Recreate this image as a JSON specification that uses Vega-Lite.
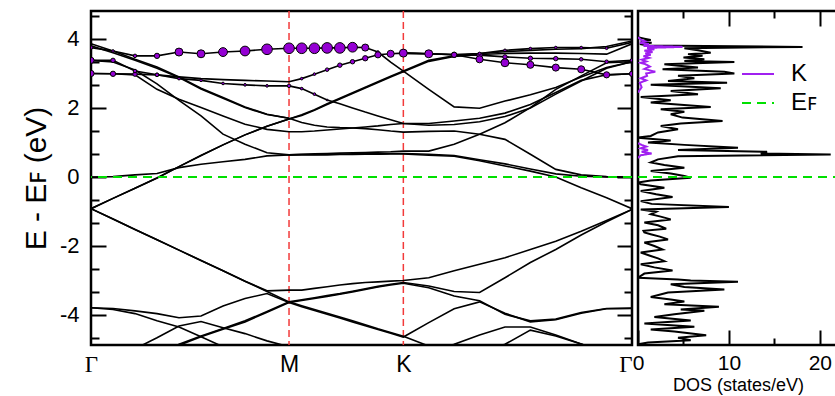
{
"$schema": "https://vega.github.io/schema/vega-lite/v6.json",
"background": "white",
"padding": {"left": 20, "top": 8, "right": 0, "bottom": 0},
"bounds": "flush",
"spacing": 6,
"config": {
 "view": {"stroke": "black", "strokeWidth": 2.5},
 "font": "Liberation Sans",
 "axis": {"domain": false, "grid": false, "tickColor": "black", "tickWidth": 2, "labelColor": "black", "titleColor": "black", "labelFont": "Liberation Sans", "titleFont": "Liberation Sans", "titleFontWeight": "normal"}
},
"datasets": {
 "kp": [{"i":0,"k":0},{"i":1,"k":0.1111},{"i":2,"k":0.2222},{"i":3,"k":0.3333},{"i":4,"k":0.4444},{"i":5,"k":0.5556},{"i":6,"k":0.6667},{"i":7,"k":0.7778},{"i":8,"k":0.8889},{"i":9,"k":1.0},{"i":10,"k":1.0641},{"i":11,"k":1.1283},{"i":12,"k":1.1924},{"i":13,"k":1.2566},{"i":14,"k":1.3207},{"i":15,"k":1.3849},{"i":16,"k":1.449},{"i":17,"k":1.5132},{"i":18,"k":1.5773},{"i":19,"k":1.7056},{"i":20,"k":1.8339},{"i":21,"k":1.9622},{"i":22,"k":2.0905},{"i":23,"k":2.2188},{"i":24,"k":2.3471},{"i":25,"k":2.4754},{"i":26,"k":2.6037},{"i":27,"k":2.732}],
 "bands": [
{"b":"A","i":0,"e":-0.92},{"b":"A","i":1,"e":-1.22},{"b":"A","i":2,"e":-1.52},{"b":"A","i":3,"e":-1.82},{"b":"A","i":4,"e":-2.12},{"b":"A","i":5,"e":-2.42},{"b":"A","i":6,"e":-2.72},{"b":"A","i":7,"e":-3.02},{"b":"A","i":8,"e":-3.30},{"b":"A","i":9,"e":-3.28},{"b":"A","i":10,"e":-3.28},{"b":"A","i":11,"e":-3.23},{"b":"A","i":12,"e":-3.18},{"b":"A","i":13,"e":-3.13},{"b":"A","i":14,"e":-3.09},{"b":"A","i":15,"e":-3.06},{"b":"A","i":16,"e":-3.04},{"b":"A","i":17,"e":-3.02},{"b":"A","i":18,"e":-3.00},{"b":"A","i":19,"e":-2.92},{"b":"A","i":20,"e":-2.72},{"b":"A","i":21,"e":-2.53},{"b":"A","i":22,"e":-2.34},{"b":"A","i":23,"e":-2.10},{"b":"A","i":24,"e":-1.86},{"b":"A","i":25,"e":-1.57},{"b":"A","i":26,"e":-1.26},{"b":"A","i":27,"e":-0.94},
{"b":"D","i":0,"e":-0.92},{"b":"D","i":1,"e":-1.22},{"b":"D","i":2,"e":-1.52},{"b":"D","i":3,"e":-1.82},{"b":"D","i":4,"e":-2.12},{"b":"D","i":5,"e":-2.42},{"b":"D","i":6,"e":-2.72},{"b":"D","i":7,"e":-3.02},{"b":"D","i":8,"e":-3.32},{"b":"D","i":9,"e":-3.62},{"b":"D","i":10,"e":-3.73},{"b":"D","i":11,"e":-3.84},{"b":"D","i":12,"e":-3.95},{"b":"D","i":13,"e":-4.06},{"b":"D","i":14,"e":-4.17},{"b":"D","i":15,"e":-4.28},{"b":"D","i":16,"e":-4.40},{"b":"D","i":17,"e":-4.51},{"b":"D","i":18,"e":-4.62},{"b":"D","i":19,"e":-4.90},{"b":"D","i":20,"e":-5.20},
{"b":"B","i":3,"e":-5.20},{"b":"B","i":4,"e":-4.85},{"b":"B","i":5,"e":-4.61},{"b":"B","i":6,"e":-4.39},{"b":"B","i":7,"e":-4.17},{"b":"B","i":8,"e":-3.90},{"b":"B","i":9,"e":-3.62},{"b":"B","i":10,"e":-3.56},{"b":"B","i":11,"e":-3.50},{"b":"B","i":12,"e":-3.44},{"b":"B","i":13,"e":-3.38},{"b":"B","i":14,"e":-3.31},{"b":"B","i":15,"e":-3.24},{"b":"B","i":16,"e":-3.17},{"b":"B","i":17,"e":-3.11},{"b":"B","i":18,"e":-3.06},{"b":"B","i":19,"e":-3.16},{"b":"B","i":20,"e":-3.32},{"b":"B","i":21,"e":-3.35},{"b":"B","i":22,"e":-2.92},{"b":"B","i":23,"e":-2.48},{"b":"B","i":24,"e":-2.10},{"b":"B","i":25,"e":-1.68},{"b":"B","i":26,"e":-1.30},{"b":"B","i":27,"e":-0.94},
{"b":"C","i":3,"e":-5.25},{"b":"C","i":4,"e":-4.88},{"b":"C","i":5,"e":-4.63},{"b":"C","i":6,"e":-4.41},{"b":"C","i":7,"e":-4.20},{"b":"C","i":8,"e":-3.92},{"b":"C","i":9,"e":-3.64},{"b":"C","i":10,"e":-3.58},{"b":"C","i":11,"e":-3.52},{"b":"C","i":12,"e":-3.46},{"b":"C","i":13,"e":-3.40},{"b":"C","i":14,"e":-3.33},{"b":"C","i":15,"e":-3.26},{"b":"C","i":16,"e":-3.19},{"b":"C","i":17,"e":-3.13},{"b":"C","i":18,"e":-3.08},{"b":"C","i":19,"e":-3.21},{"b":"C","i":20,"e":-3.45},{"b":"C","i":21,"e":-3.59},{"b":"C","i":22,"e":-3.98},{"b":"C","i":23,"e":-4.17},{"b":"C","i":24,"e":-4.12},{"b":"C","i":25,"e":-3.93},{"b":"C","i":26,"e":-3.81},{"b":"C","i":27,"e":-3.80},
{"b":"P","i":0,"e":-3.79},{"b":"P","i":1,"e":-3.81},{"b":"P","i":2,"e":-3.88},{"b":"P","i":3,"e":-3.96},{"b":"P","i":4,"e":-4.08},{"b":"P","i":5,"e":-4.03},{"b":"P","i":6,"e":-3.74},{"b":"P","i":7,"e":-3.52},{"b":"P","i":8,"e":-3.38},{"b":"P","i":9,"e":-3.64},{"b":"P","i":10,"e":-3.76},{"b":"P","i":11,"e":-3.87},{"b":"P","i":12,"e":-3.98},{"b":"P","i":13,"e":-4.09},{"b":"P","i":14,"e":-4.20},{"b":"P","i":15,"e":-4.31},{"b":"P","i":16,"e":-4.42},{"b":"P","i":17,"e":-4.53},{"b":"P","i":18,"e":-4.64},{"b":"P","i":19,"e":-4.22},{"b":"P","i":20,"e":-3.82},{"b":"P","i":21,"e":-3.62},{"b":"P","i":22,"e":-3.95},{"b":"P","i":23,"e":-4.20},{"b":"P","i":24,"e":-4.14},{"b":"P","i":25,"e":-3.95},{"b":"P","i":26,"e":-3.82},{"b":"P","i":27,"e":-3.81},
{"b":"Q","i":0,"e":-3.79},{"b":"Q","i":1,"e":-3.84},{"b":"Q","i":2,"e":-3.96},{"b":"Q","i":3,"e":-4.17},{"b":"Q","i":4,"e":-4.35},{"b":"Q","i":5,"e":-4.63},{"b":"Q","i":6,"e":-4.92},{"b":"Q","i":7,"e":-5.20},
{"b":"R","i":1,"e":-5.25},{"b":"R","i":2,"e":-4.98},{"b":"R","i":3,"e":-4.66},{"b":"R","i":4,"e":-4.32},{"b":"R","i":5,"e":-4.19},{"b":"R","i":6,"e":-4.37},{"b":"R","i":7,"e":-4.54},{"b":"R","i":8,"e":-4.75},{"b":"R","i":9,"e":-4.92},{"b":"R","i":10,"e":-5.10},
{"b":"T1","i":18,"e":-5.40},{"b":"T1","i":19,"e":-5.10},{"b":"T1","i":20,"e":-4.85},{"b":"T1","i":21,"e":-4.58},{"b":"T1","i":22,"e":-4.35},{"b":"T1","i":23,"e":-4.35},{"b":"T1","i":24,"e":-4.58},{"b":"T1","i":25,"e":-4.84},{"b":"T1","i":26,"e":-5.10},
{"b":"T2","i":20,"e":-5.40},{"b":"T2","i":21,"e":-5.10},{"b":"T2","i":22,"e":-4.85},{"b":"T2","i":23,"e":-4.44},{"b":"T2","i":24,"e":-4.61},{"b":"T2","i":25,"e":-4.84},{"b":"T2","i":26,"e":-5.10},
{"b":"U1","i":0,"e":-0.92},{"b":"U1","i":1,"e":-0.62},{"b":"U1","i":2,"e":-0.33},{"b":"U1","i":3,"e":-0.03},{"b":"U1","i":4,"e":0.30},{"b":"U1","i":5,"e":0.62},{"b":"U1","i":6,"e":0.93},{"b":"U1","i":7,"e":1.22},{"b":"U1","i":8,"e":1.47},{"b":"U1","i":9,"e":1.68},{"b":"U1","i":10,"e":1.80},{"b":"U1","i":11,"e":1.95},{"b":"U1","i":12,"e":2.12},{"b":"U1","i":13,"e":2.28},{"b":"U1","i":14,"e":2.44},{"b":"U1","i":15,"e":2.60},{"b":"U1","i":16,"e":2.76},{"b":"U1","i":17,"e":2.92},{"b":"U1","i":18,"e":3.07},{"b":"U1","i":19,"e":3.38},{"b":"U1","i":20,"e":3.51},{"b":"U1","i":21,"e":3.58},{"b":"U1","i":22,"e":3.63},{"b":"U1","i":23,"e":3.67},{"b":"U1","i":24,"e":3.70},{"b":"U1","i":25,"e":3.72},{"b":"U1","i":26,"e":3.78},{"b":"U1","i":27,"e":3.94},
{"b":"U2","i":0,"e":-0.92},{"b":"U2","i":1,"e":-0.62},{"b":"U2","i":2,"e":-0.33},{"b":"U2","i":3,"e":-0.03},{"b":"U2","i":4,"e":0.30},{"b":"U2","i":5,"e":0.62},{"b":"U2","i":6,"e":0.93},{"b":"U2","i":7,"e":1.22},{"b":"U2","i":8,"e":1.47},{"b":"U2","i":9,"e":1.68},{"b":"U2","i":10,"e":1.78},{"b":"U2","i":11,"e":1.93},{"b":"U2","i":12,"e":2.10},{"b":"U2","i":13,"e":2.26},{"b":"U2","i":14,"e":2.42},{"b":"U2","i":15,"e":2.58},{"b":"U2","i":16,"e":2.74},{"b":"U2","i":17,"e":2.90},{"b":"U2","i":18,"e":3.05},{"b":"U2","i":19,"e":3.35},{"b":"U2","i":20,"e":3.49},{"b":"U2","i":21,"e":3.55},{"b":"U2","i":22,"e":3.58},{"b":"U2","i":23,"e":3.59},{"b":"U2","i":24,"e":3.59},{"b":"U2","i":25,"e":3.58},{"b":"U2","i":26,"e":3.56},{"b":"U2","i":27,"e":3.86},
{"b":"a1","i":0,"e":3.86},{"b":"a1","i":1,"e":3.65},{"b":"a1","i":2,"e":3.41},{"b":"a1","i":3,"e":3.19},{"b":"a1","i":4,"e":2.90},{"b":"a1","i":5,"e":2.57},{"b":"a1","i":6,"e":2.30},{"b":"a1","i":7,"e":2.03},{"b":"a1","i":8,"e":1.82},{"b":"a1","i":9,"e":1.70},{"b":"a1","i":10,"e":1.58},{"b":"a1","i":11,"e":1.50},{"b":"a1","i":12,"e":1.45},{"b":"a1","i":13,"e":1.43},{"b":"a1","i":14,"e":1.42},{"b":"a1","i":15,"e":1.40},{"b":"a1","i":16,"e":1.37},{"b":"a1","i":17,"e":1.33},{"b":"a1","i":18,"e":1.30},{"b":"a1","i":19,"e":1.32},{"b":"a1","i":20,"e":1.33},{"b":"a1","i":21,"e":1.24},{"b":"a1","i":22,"e":1.09},{"b":"a1","i":23,"e":0.66},{"b":"a1","i":24,"e":0.22},{"b":"a1","i":25,"e":0.06},{"b":"a1","i":26,"e":0.01},{"b":"a1","i":27,"e":0.00},
{"b":"a2","i":0,"e":3.80},{"b":"a2","i":1,"e":3.60},{"b":"a2","i":2,"e":3.38},{"b":"a2","i":3,"e":3.15},{"b":"a2","i":4,"e":2.88},{"b":"a2","i":5,"e":2.55},{"b":"a2","i":6,"e":2.28},{"b":"a2","i":7,"e":2.01},{"b":"a2","i":8,"e":1.81},{"b":"a2","i":9,"e":1.70},
{"b":"bb","i":0,"e":3.00},{"b":"bb","i":1,"e":2.99},{"b":"bb","i":2,"e":2.96},{"b":"bb","i":3,"e":2.54},{"b":"bb","i":4,"e":2.25},{"b":"bb","i":5,"e":2.01},{"b":"bb","i":6,"e":1.77},{"b":"bb","i":7,"e":1.53},{"b":"bb","i":8,"e":1.38},{"b":"bb","i":9,"e":1.31},{"b":"bb","i":10,"e":1.31},{"b":"bb","i":11,"e":1.33},{"b":"bb","i":12,"e":1.36},{"b":"bb","i":13,"e":1.39},{"b":"bb","i":14,"e":1.42},{"b":"bb","i":15,"e":1.45},{"b":"bb","i":16,"e":1.48},{"b":"bb","i":17,"e":1.52},{"b":"bb","i":18,"e":1.55},{"b":"bb","i":19,"e":1.55},{"b":"bb","i":20,"e":1.62},{"b":"bb","i":21,"e":1.70},{"b":"bb","i":22,"e":1.85},{"b":"bb","i":23,"e":2.10},{"b":"bb","i":24,"e":2.45},{"b":"bb","i":25,"e":2.80},{"b":"bb","i":26,"e":2.96},{"b":"bb","i":27,"e":2.99},
{"b":"cc","i":0,"e":3.38},{"b":"cc","i":1,"e":3.33},{"b":"cc","i":2,"e":3.10},{"b":"cc","i":3,"e":2.70},{"b":"cc","i":4,"e":2.22},{"b":"cc","i":5,"e":1.77},{"b":"cc","i":6,"e":1.24},{"b":"cc","i":7,"e":0.95},{"b":"cc","i":8,"e":0.70},{"b":"cc","i":9,"e":0.64},{"b":"cc","i":10,"e":0.64},{"b":"cc","i":11,"e":0.64},{"b":"cc","i":12,"e":0.64},{"b":"cc","i":13,"e":0.65},{"b":"cc","i":14,"e":0.65},{"b":"cc","i":15,"e":0.66},{"b":"cc","i":16,"e":0.66},{"b":"cc","i":17,"e":0.67},{"b":"cc","i":18,"e":0.67},{"b":"cc","i":19,"e":0.63},{"b":"cc","i":20,"e":0.60},{"b":"cc","i":21,"e":0.47},{"b":"cc","i":22,"e":0.32},{"b":"cc","i":23,"e":0.17},{"b":"cc","i":24,"e":0.00},{"b":"cc","i":25,"e":-0.31},{"b":"cc","i":26,"e":-0.60},{"b":"cc","i":27,"e":-0.92},
{"b":"dd","i":0,"e":0.00},{"b":"dd","i":1,"e":0.01},{"b":"dd","i":2,"e":0.06},{"b":"dd","i":3,"e":0.10},{"b":"dd","i":4,"e":0.27},{"b":"dd","i":5,"e":0.37},{"b":"dd","i":6,"e":0.44},{"b":"dd","i":7,"e":0.51},{"b":"dd","i":8,"e":0.61},{"b":"dd","i":9,"e":0.64},{"b":"dd","i":10,"e":0.66},{"b":"dd","i":11,"e":0.67},{"b":"dd","i":12,"e":0.68},{"b":"dd","i":13,"e":0.69},{"b":"dd","i":14,"e":0.70},{"b":"dd","i":15,"e":0.71},{"b":"dd","i":16,"e":0.72},{"b":"dd","i":17,"e":0.73},{"b":"dd","i":18,"e":0.75},{"b":"dd","i":19,"e":0.75},{"b":"dd","i":20,"e":0.95},{"b":"dd","i":21,"e":1.24},{"b":"dd","i":22,"e":1.57},{"b":"dd","i":23,"e":2.01},{"b":"dd","i":24,"e":2.54},{"b":"dd","i":25,"e":2.93},{"b":"dd","i":26,"e":3.31},{"b":"dd","i":27,"e":3.34},
{"b":"ff","i":9,"e":0.64},{"b":"ff","i":10,"e":0.65},{"b":"ff","i":11,"e":0.65},{"b":"ff","i":12,"e":0.66},{"b":"ff","i":13,"e":0.66},{"b":"ff","i":14,"e":0.67},{"b":"ff","i":15,"e":0.67},{"b":"ff","i":16,"e":0.67},{"b":"ff","i":17,"e":0.68},{"b":"ff","i":18,"e":0.68},{"b":"ff","i":19,"e":0.66},{"b":"ff","i":20,"e":0.62},{"b":"ff","i":21,"e":0.50},{"b":"ff","i":22,"e":0.38},{"b":"ff","i":23,"e":0.23},{"b":"ff","i":24,"e":0.09},{"b":"ff","i":25,"e":0.02},{"b":"ff","i":26,"e":0.00},{"b":"ff","i":27,"e":0.00},
{"b":"Btop","i":0,"e":3.75,"w":4},{"b":"Btop","i":1,"e":3.65,"w":3},{"b":"Btop","i":2,"e":3.51,"w":4},{"b":"Btop","i":3,"e":3.51,"w":6},{"b":"Btop","i":4,"e":3.62,"w":9},{"b":"Btop","i":5,"e":3.57,"w":9},{"b":"Btop","i":6,"e":3.62,"w":10},{"b":"Btop","i":7,"e":3.65,"w":11},{"b":"Btop","i":8,"e":3.70,"w":12},{"b":"Btop","i":9,"e":3.73,"w":12},{"b":"Btop","i":10,"e":3.73,"w":12},{"b":"Btop","i":11,"e":3.73,"w":12},{"b":"Btop","i":12,"e":3.74,"w":12},{"b":"Btop","i":13,"e":3.74,"w":12},{"b":"Btop","i":14,"e":3.76,"w":11},{"b":"Btop","i":15,"e":3.75,"w":8},{"b":"Btop","i":16,"e":3.62,"w":3},{"b":"Btop","i":17,"e":3.33,"w":0},{"b":"Btop","i":18,"e":3.07,"w":0},{"b":"Btop","i":19,"e":2.54,"w":0},{"b":"Btop","i":20,"e":2.03,"w":0},{"b":"Btop","i":21,"e":1.99,"w":0},{"b":"Btop","i":22,"e":2.20,"w":0},{"b":"Btop","i":23,"e":2.38,"w":0},{"b":"Btop","i":24,"e":2.59,"w":0},{"b":"Btop","i":25,"e":2.90,"w":0},{"b":"Btop","i":26,"e":3.17,"w":0},{"b":"Btop","i":27,"e":3.34,"w":0},
{"b":"Rd","i":0,"e":3.00,"w":7},{"b":"Rd","i":1,"e":2.99,"w":6},{"b":"Rd","i":2,"e":2.98,"w":5},{"b":"Rd","i":3,"e":2.96,"w":4},{"b":"Rd","i":4,"e":2.90,"w":0},{"b":"Rd","i":5,"e":2.85,"w":0},{"b":"Rd","i":6,"e":2.82,"w":0},{"b":"Rd","i":7,"e":2.80,"w":0},{"b":"Rd","i":8,"e":2.78,"w":0},{"b":"Rd","i":9,"e":2.76,"w":0},{"b":"Rd","i":10,"e":2.85,"w":3},{"b":"Rd","i":11,"e":2.98,"w":3},{"b":"Rd","i":12,"e":3.11,"w":4},{"b":"Rd","i":13,"e":3.24,"w":5},{"b":"Rd","i":14,"e":3.34,"w":5},{"b":"Rd","i":15,"e":3.44,"w":6},{"b":"Rd","i":16,"e":3.54,"w":7},{"b":"Rd","i":17,"e":3.57,"w":8},{"b":"Rd","i":18,"e":3.59,"w":9},{"b":"Rd","i":19,"e":3.57,"w":9},{"b":"Rd","i":20,"e":3.54,"w":6},{"b":"Rd","i":21,"e":3.53,"w":6},{"b":"Rd","i":22,"e":3.48,"w":5},{"b":"Rd","i":23,"e":3.44,"w":5},{"b":"Rd","i":24,"e":3.43,"w":5},{"b":"Rd","i":25,"e":3.41,"w":4},{"b":"Rd","i":26,"e":3.34,"w":4},{"b":"Rd","i":27,"e":3.38,"w":4},
{"b":"X","i":0,"e":3.38,"w":7},{"b":"X","i":1,"e":3.38,"w":5},{"b":"X","i":2,"e":3.07,"w":4},{"b":"X","i":3,"e":2.96,"w":4},{"b":"X","i":4,"e":2.85,"w":3},{"b":"X","i":5,"e":2.80,"w":3},{"b":"X","i":6,"e":2.71,"w":3},{"b":"X","i":7,"e":2.67,"w":3},{"b":"X","i":8,"e":2.64,"w":3},{"b":"X","i":9,"e":2.64,"w":4},{"b":"X","i":10,"e":2.56,"w":3},{"b":"X","i":11,"e":2.40,"w":3},{"b":"X","i":12,"e":2.23,"w":2},{"b":"X","i":13,"e":2.12},{"b":"X","i":14,"e":2.00},{"b":"X","i":15,"e":1.88},{"b":"X","i":16,"e":1.77},{"b":"X","i":17,"e":1.66},{"b":"X","i":18,"e":1.55},{"b":"X","i":19,"e":1.50},{"b":"X","i":20,"e":1.52},{"b":"X","i":21,"e":1.60},{"b":"X","i":22,"e":1.75},{"b":"X","i":23,"e":2.00},{"b":"X","i":24,"e":2.40},{"b":"X","i":25,"e":2.78},{"b":"X","i":26,"e":3.15},{"b":"X","i":27,"e":3.34},
{"b":"Ts","i":18,"e":3.59},{"b":"Ts","i":19,"e":3.57},{"b":"Ts","i":20,"e":3.55},{"b":"Ts","i":21,"e":3.58,"w":3},{"b":"Ts","i":22,"e":3.67,"w":3},{"b":"Ts","i":23,"e":3.72,"w":3},{"b":"Ts","i":24,"e":3.75,"w":3},{"b":"Ts","i":25,"e":3.75,"w":3},{"b":"Ts","i":26,"e":3.73,"w":3},{"b":"Ts","i":27,"e":3.90},
{"b":"Tb","i":18,"e":3.59},{"b":"Tb","i":19,"e":3.57},{"b":"Tb","i":20,"e":3.54,"w":6},{"b":"Tb","i":21,"e":3.41,"w":8},{"b":"Tb","i":22,"e":3.31,"w":9},{"b":"Tb","i":23,"e":3.25,"w":8},{"b":"Tb","i":24,"e":3.17,"w":8},{"b":"Tb","i":25,"e":3.12,"w":8},{"b":"Tb","i":26,"e":2.96,"w":7},{"b":"Tb","i":27,"e":2.99,"w":6}
 ],
 "dos": [
{"e":4.81,"d":0},{"e":4.05,"d":0},{"e":4.01,"d":0.7},{"e":3.97,"d":1.4},{"e":3.93,"d":0.3},{"e":3.89,"d":1.5},{"e":3.85,"d":0.2},{"e":3.81,"d":1.0},{"e":3.77,"d":18.1},{"e":3.73,"d":5.1},{"e":3.67,"d":6.6},{"e":3.60,"d":8.0},{"e":3.56,"d":5.5},{"e":3.51,"d":7.1},{"e":3.46,"d":5.0},{"e":3.41,"d":7.3},{"e":3.36,"d":5.1},{"e":3.33,"d":10.6},{"e":3.27,"d":2.9},{"e":3.22,"d":4.5},{"e":3.17,"d":6.6},{"e":3.12,"d":2.7},{"e":3.05,"d":9.5},{"e":3.00,"d":10.6},{"e":2.93,"d":4.4},{"e":2.86,"d":6.2},{"e":2.78,"d":3.3},{"e":2.73,"d":9.8},{"e":2.67,"d":1.4},{"e":2.57,"d":9.1},{"e":2.49,"d":3.6},{"e":2.40,"d":6.6},{"e":2.32,"d":0.3},{"e":2.22,"d":3.6},{"e":2.16,"d":1.4},{"e":2.03,"d":8.0},{"e":1.96,"d":2.5},{"e":1.89,"d":5.1},{"e":1.82,"d":3.6},{"e":1.72,"d":4.9},{"e":1.62,"d":9.3},{"e":1.55,"d":4.7},{"e":1.48,"d":2.5},{"e":1.38,"d":4.4},{"e":1.29,"d":2.2},{"e":1.19,"d":1.4},{"e":1.14,"d":0.0},{"e":1.06,"d":3.6},{"e":1.00,"d":1.1},{"e":0.93,"d":5.1},{"e":0.85,"d":11.0},{"e":0.78,"d":4.4},{"e":0.73,"d":14.2},{"e":0.68,"d":13.5},{"e":0.65,"d":21.2},{"e":0.60,"d":4.4},{"e":0.51,"d":2.2},{"e":0.42,"d":1.4},{"e":0.35,"d":2.9},{"e":0.27,"d":5.1},{"e":0.17,"d":1.4},{"e":0.10,"d":3.6},{"e":0.03,"d":5.1},{"e":-0.02,"d":5.8},{"e":-0.10,"d":1.4},{"e":-0.16,"d":0.0},{"e":-0.21,"d":0.3},{"e":-0.31,"d":2.9},{"e":-0.41,"d":0.3},{"e":-0.50,"d":2.0},{"e":-0.58,"d":3.8},{"e":-0.70,"d":0.3},{"e":-0.78,"d":1.5},{"e":-0.87,"d":10.0},{"e":-0.94,"d":0.3},{"e":-1.01,"d":2.0},{"e":-1.08,"d":1.4},{"e":-1.15,"d":2.5},{"e":-1.23,"d":3.6},{"e":-1.32,"d":0.7},{"e":-1.40,"d":2.2},{"e":-1.50,"d":3.1},{"e":-1.56,"d":0.6},{"e":-1.61,"d":0.7},{"e":-1.66,"d":1.4},{"e":-1.73,"d":2.4},{"e":-1.81,"d":3.3},{"e":-1.90,"d":0.7},{"e":-2.00,"d":1.8},{"e":-2.10,"d":2.7},{"e":-2.19,"d":0.3},{"e":-2.29,"d":1.4},{"e":-2.36,"d":2.2},{"e":-2.44,"d":2.9},{"e":-2.53,"d":0.3},{"e":-2.62,"d":1.8},{"e":-2.71,"d":3.8},{"e":-2.80,"d":0.7},{"e":-2.92,"d":0.0},{"e":-2.97,"d":4.4},{"e":-3.00,"d":5.8},{"e":-3.04,"d":11.0},{"e":-3.11,"d":3.6},{"e":-3.19,"d":5.1},{"e":-3.26,"d":9.5},{"e":-3.35,"d":3.3},{"e":-3.48,"d":1.4},{"e":-3.55,"d":3.6},{"e":-3.61,"d":5.1},{"e":-3.69,"d":2.9},{"e":-3.76,"d":8.9},{"e":-3.84,"d":4.7},{"e":-3.88,"d":7.3},{"e":-3.98,"d":4.0},{"e":-4.06,"d":1.8},{"e":-4.16,"d":5.8},{"e":-4.25,"d":0.7},{"e":-4.34,"d":6.2},{"e":-4.42,"d":1.4},{"e":-4.48,"d":4.0},{"e":-4.59,"d":7.5},{"e":-4.66,"d":4.4},{"e":-4.73,"d":5.8},{"e":-4.80,"d":1.1},{"e":-4.85,"d":0.0},{"e":-4.90,"d":0.5}
 ],
 "lines": [
{"s":"K","g":"k1","e":4.05,"d":0},{"s":"K","g":"k1","e":3.98,"d":0.3},{"s":"K","g":"k1","e":3.93,"d":0.8},{"s":"K","g":"k1","e":3.89,"d":0.2},{"s":"K","g":"k1","e":3.85,"d":1.2},{"s":"K","g":"k1","e":3.80,"d":0.6},{"s":"K","g":"k1","e":3.77,"d":4.9},{"s":"K","g":"k1","e":3.74,"d":1.0},{"s":"K","g":"k1","e":3.70,"d":1.8},{"s":"K","g":"k1","e":3.66,"d":0.7},{"s":"K","g":"k1","e":3.62,"d":1.6},{"s":"K","g":"k1","e":3.58,"d":0.8},{"s":"K","g":"k1","e":3.54,"d":1.4},{"s":"K","g":"k1","e":3.50,"d":0.6},{"s":"K","g":"k1","e":3.45,"d":1.2},{"s":"K","g":"k1","e":3.40,"d":0.4},{"s":"K","g":"k1","e":3.35,"d":0.9},{"s":"K","g":"k1","e":3.31,"d":0.3},{"s":"K","g":"k1","e":3.27,"d":0.8},{"s":"K","g":"k1","e":3.20,"d":1.3},{"s":"K","g":"k1","e":3.13,"d":0.7},{"s":"K","g":"k1","e":3.05,"d":1.9},{"s":"K","g":"k1","e":3.00,"d":0.9},{"s":"K","g":"k1","e":2.93,"d":1.0},{"s":"K","g":"k1","e":2.86,"d":0.3},{"s":"K","g":"k1","e":2.80,"d":0.9},{"s":"K","g":"k1","e":2.73,"d":0.2},{"s":"K","g":"k1","e":2.60,"d":0.4},{"s":"K","g":"k1","e":2.45,"d":0.0},
{"s":"K","g":"k2","e":0.98,"d":0.0},{"s":"K","g":"k2","e":0.93,"d":0.4},{"s":"K","g":"k2","e":0.88,"d":0.9},{"s":"K","g":"k2","e":0.83,"d":0.3},{"s":"K","g":"k2","e":0.78,"d":1.1},{"s":"K","g":"k2","e":0.73,"d":0.4},{"s":"K","g":"k2","e":0.68,"d":1.5},{"s":"K","g":"k2","e":0.63,"d":0.3},{"s":"K","g":"k2","e":0.55,"d":0.0},
{"s":"EF","g":"ef","e":0,"d":0},{"s":"EF","g":"ef","e":0,"d":22}
 ]
},
"hconcat": [
 {
  "width": 541, "height": 334,
  "resolve": {"axis": {"y": "independent"}},
  "layer": [
   {
    "data": {"values": [{"k": 1.0}, {"k": 1.5773}]},
    "mark": {"type": "rule", "color": "#f23a3a", "strokeDash": [7, 4], "strokeWidth": 1.5},
    "encoding": {
     "x": {"field": "k", "type": "quantitative", "scale": {"domain": [0, 2.732], "nice": false, "zero": false},
      "axis": {"orient": "bottom", "values": [0, 1, 1.5773, 2.732], "title": null, "ticks": false, "labelPadding": 8, "labelFlush": false, "labelOverlap": false, "labelFontSize": 23,
       "labelExpr": "datum.value < 0.5 || datum.value > 2.5 ? 'Γ' : (datum.value < 1.2 ? 'M' : 'K')",
       "labelFont": {"condition": {"test": "datum.value < 0.5 || datum.value > 2.5", "value": "Liberation Serif"}, "value": "Liberation Sans"},
       "labelAlign": {"condition": {"test": "datum.value > 2.5", "value": "right"}, "value": "center"}}}
    }
   },
   {
    "data": {"name": "bands"},
    "transform": [{"lookup": "i", "from": {"data": {"name": "kp"}, "key": "i", "fields": ["k"]}}],
    "mark": {"type": "line", "color": "black", "strokeWidth": 1.6, "clip": true},
    "encoding": {
     "x": {"field": "k", "type": "quantitative"},
     "y": {"field": "e", "type": "quantitative", "scale": {"domain": [-4.87, 4.81], "nice": false, "zero": false},
      "axis": {"orient": "left", "values": [-4.667, -4, -3.333, -2.667, -2, -1.333, -0.667, 0, 0.667, 1.333, 2, 2.667, 3.333, 4, 4.667],
       "labelExpr": "abs(datum.value - round(datum.value)) < 0.01 ? '' + round(datum.value) : ''",
       "tickSize": {"condition": {"test": "abs(datum.value - round(datum.value)) < 0.01", "value": -15}, "value": -8},
       "labelPadding": 27, "labelFontSize": 22, "title": "E - Eꜰ (eV)", "titleFontSize": 30, "titlePadding": 8}},
     "detail": {"field": "b"},
     "order": {"field": "i", "type": "quantitative"}
    }
   },
   {
    "data": {"values": [{"e": 0}]},
    "mark": {"type": "rule", "color": "#00e000", "strokeDash": [9, 6], "strokeWidth": 2},
    "encoding": {
     "y": {"field": "e", "type": "quantitative",
      "axis": {"orient": "right", "values": [-4.667, -4, -3.333, -2.667, -2, -1.333, -0.667, 0, 0.667, 1.333, 2, 2.667, 3.333, 4, 4.667], "labels": false, "title": null,
       "tickSize": {"condition": {"test": "abs(datum.value - round(datum.value)) < 0.01", "value": -15}, "value": -8}}}
    }
   },
   {
    "data": {"name": "bands"},
    "transform": [{"filter": "datum.w > 0"}, {"lookup": "i", "from": {"data": {"name": "kp"}, "key": "i", "fields": ["k"]}}],
    "mark": {"type": "circle", "fill": "#9400d3", "stroke": "black", "strokeWidth": 1, "opacity": 1, "clip": true},
    "encoding": {
     "x": {"field": "k", "type": "quantitative"},
     "y": {"field": "e", "type": "quantitative", "axis": null},
     "size": {"field": "w", "type": "quantitative", "scale": {"type": "pow", "exponent": 2, "domain": [0, 12], "range": [0, 113]}, "legend": null}
    }
   }
  ]
 },
 {
  "width": 200, "height": 334,
  "resolve": {"axis": {"x": "independent"}},
  "layer": [
   {
    "data": {"name": "dos"},
    "mark": {"type": "line", "color": "black", "strokeWidth": 2, "clip": true},
    "encoding": {
     "x": {"field": "d", "type": "quantitative", "scale": {"domain": [0, 22], "nice": false, "zero": false},
      "axis": {"orient": "bottom", "values": [0, 5, 10, 15, 20], "labelExpr": "datum.value % 10 == 0 ? '' + datum.value : ''",
       "tickSize": {"condition": {"test": "datum.value % 10 == 0", "value": -15}, "value": -7},
       "labelPadding": 22, "labelFontSize": 21, "labelFlush": false, "title": "DOS (states/eV)", "titleFontSize": 18, "titlePadding": 3}},
     "y": {"field": "e", "type": "quantitative", "scale": {"domain": [-4.87, 4.81], "nice": false, "zero": false}, "axis": null},
     "order": {"field": "e", "type": "quantitative"}
    }
   },
   {
    "data": {"name": "lines"},
    "mark": {"type": "line", "strokeWidth": 2, "clip": true},
    "encoding": {
     "x": {"field": "d", "type": "quantitative",
      "axis": {"orient": "top", "values": [5, 10, 15, 20], "labels": false, "title": null,
       "tickSize": {"condition": {"test": "datum.value % 10 == 0", "value": -15}, "value": -7}}},
     "y": {"field": "e", "type": "quantitative", "axis": null},
     "order": {"field": "e", "type": "quantitative"},
     "detail": {"field": "g"},
     "color": {"field": "s", "type": "nominal", "scale": {"domain": ["K", "EF"], "range": ["#a020f0", "#00e000"]},
      "legend": {"orient": "none", "legendX": 650, "legendY": 46, "title": null, "symbolType": "stroke", "symbolSize": 1024, "symbolStrokeWidth": 2, "labelFontSize": 24, "labelOffset": 16, "rowPadding": -3,
       "labelExpr": "datum.label == 'EF' ? 'Eꜰ' : datum.label"}},
     "strokeDash": {"field": "s", "type": "nominal", "scale": {"domain": ["K", "EF"], "range": [[1, 0], [9, 6]]},
      "legend": {"orient": "none", "legendX": 650, "legendY": 46, "title": null, "symbolType": "stroke", "symbolSize": 1024, "symbolStrokeWidth": 2, "labelFontSize": 24, "labelOffset": 16, "rowPadding": -3,
       "labelExpr": "datum.label == 'EF' ? 'Eꜰ' : datum.label"}}
    }
   }
  ]
 }
]
}
